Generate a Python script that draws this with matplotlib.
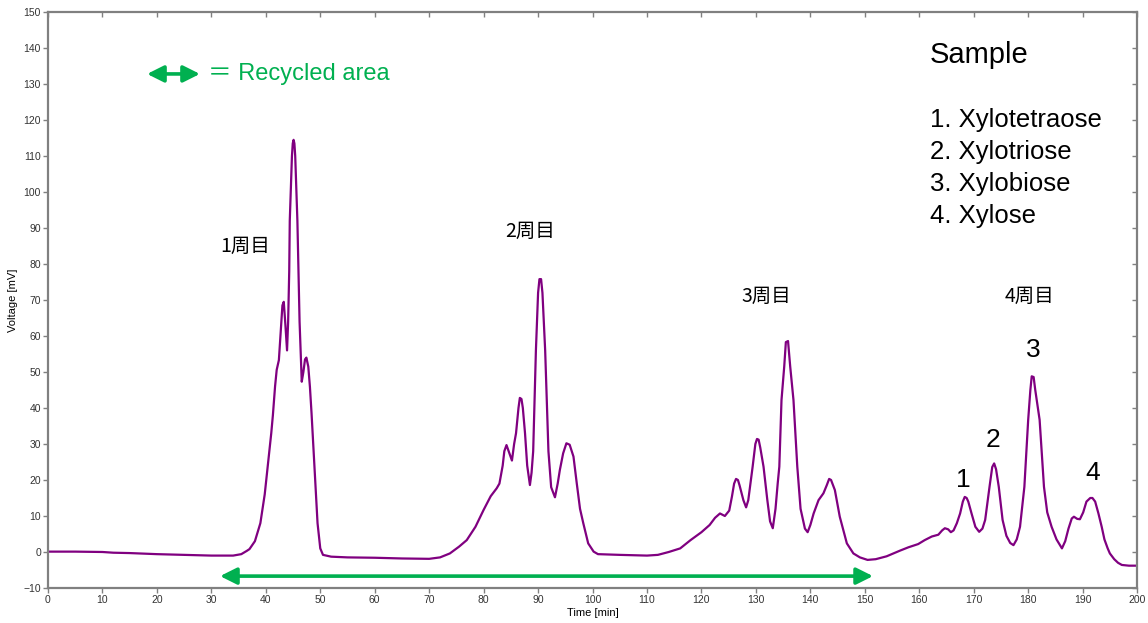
import matplotlib
matplotlib.use("Agg")
import matplotlib.pyplot as plt

plt.rcParams['font.family'] = ['Liberation Sans', 'DejaVu Sans']

# chromatogram (time [min], voltage [mV])
time_min = [
    0, 5, 10, 12, 15, 20, 25, 30, 34, 35.5, 36.5,
    37, 38, 39, 39.8, 40.5, 41.0, 41.3, 41.7, 42.0, 42.4, 42.8, 43.05, 43.3, 43.6, 43.9,
    44.1, 44.3, 44.4, 44.8, 44.95, 45.1, 45.25, 45.4, 45.8, 46.0, 46.2, 46.6, 46.9,
    47.2, 47.45, 47.8, 48.1, 48.4, 49.0, 49.5, 50.0, 50.5,
    52, 55, 60, 65, 70, 72, 73.8,
    75.5, 76.9, 78.5, 80.0, 81.3, 82.4, 82.9, 83.5, 83.8, 84.2, 84.6, 85.2, 85.6,
    85.95, 86.4, 86.65, 86.95, 87.2, 87.6, 88.0, 88.5, 88.8, 89.1, 89.6, 90.0, 90.25,
    90.55, 90.8, 91.3, 91.9, 92.4, 93.1, 93.6, 94.0, 94.6, 95.2, 95.8, 96.5, 97.1,
    97.7, 98.3, 99.2, 100.2, 101, 105, 110, 112,
    114, 116.1, 118, 120, 121.5, 122.5, 123.4, 124.3, 125.1, 125.6, 126.0, 126.35,
    126.7, 127.0, 127.7, 128.2, 128.6, 129.4, 129.9, 130.2, 130.5, 130.8, 131.4,
    132.1, 132.6, 133.1, 133.6, 134.0, 134.3, 134.7, 135.2, 135.5, 135.9, 136.3,
    136.9, 137.6, 138.2, 139.0, 139.5, 140.0, 140.6, 141.5, 142.4, 143.0, 143.45,
    143.8, 144.5, 145.4, 146.7, 147.9, 149.1, 150.5, 152, 154, 156.5,
    158, 159.8, 161, 162.3, 163.5, 164.2, 164.7, 165.3, 165.8, 166.3, 166.9, 167.5,
    168.0, 168.35, 168.7, 169.0, 169.6, 170.3, 171.0, 171.6, 172.1, 172.9, 173.4,
    173.75, 174.1, 174.6, 175.3, 176.0, 176.7, 177.3, 177.9, 178.5, 179.3, 180.0,
    180.4, 180.65, 181.0, 181.3, 182.1, 182.9, 183.5, 184.3, 185.2, 186.2, 186.8,
    187.4, 188.0, 188.4, 189.0, 189.5, 190.1, 190.7, 191.4, 191.8, 192.3, 192.9,
    193.5, 194.0, 194.6, 195.0, 195.8, 196.5, 197.2, 198.5, 200,
]
voltage_mv = [
    0.1, 0.1, 0.0, -0.2, -0.3, -0.6, -0.8, -1.0, -1.0, -0.6, 0.3,
    0.8, 3, 8, 16, 26, 33, 38, 46, 50.6, 53.3, 62.6, 68.5, 69.5, 63, 56,
    64, 78, 92, 110, 113.5, 114.5, 113.5, 110, 92, 78, 64, 47.3, 50,
    53.5, 54, 51.5, 45.9, 38.5, 22, 8, 1, -0.8,
    -1.3, -1.5, -1.6, -1.8, -1.9, -1.5, -0.4,
    1.5, 3.3, 7, 11.7, 15.5, 17.7, 19, 24, 28, 29.7, 28, 25.4, 30,
    33, 40, 42.8, 42.5, 40, 33, 24, 18.6, 22, 28, 56, 72, 75.8,
    75.8, 72, 56, 28, 18, 15.2, 19, 22.8, 27.4, 30.2, 29.8, 26.5, 19.1,
    12, 8, 2.4, 0.1, -0.6, -0.8, -1.0, -0.8,
    0, 1.0, 3.3, 5.5, 7.5, 9.5, 10.7, 10.0, 11.5, 15.4, 19, 20.3,
    20.0, 18.5, 14.4, 12.4, 14.4, 23.7, 30, 31.4, 31.2, 29, 23.7,
    14.4, 8.5, 6.6, 12, 19, 23.7, 42.2, 51.5, 58.3, 58.6, 51.5,
    42.2, 23.7, 12, 6.5, 5.5, 7.5, 10.7, 14.4, 16.3, 18.5, 20.3,
    20.0, 17.2, 9.8, 2.4, -0.4, -1.5, -2.2, -2.0, -1.2, 0.4,
    1.3, 2.2, 3.3, 4.3, 4.8, 6.0, 6.6, 6.3, 5.5, 6, 8, 10.7,
    14, 15.3, 15.0, 14, 10.7, 7, 5.6, 6.5, 8.9, 18.1, 23.6,
    24.6, 23, 18.1, 8.9, 4.5, 2.5, 1.9, 3.5, 7, 18.1, 36.7,
    45, 48.8, 48.6, 45, 36.7, 18.1, 11, 7, 3.5, 1.0, 3,
    6.5, 9.3, 9.8, 9.2, 9.1, 11, 14, 15.0, 15.0, 14, 10.7,
    7, 3.5, 1, -0.4, -2, -3, -3.6, -3.8, -3.8,
]

cycle_labels = ['1周目', '2周目', '3周目', '4周目']
cycle_pos = [(36.2, 85), (88.5, 89), (132.0, 71), (180.3, 71)]
peak_labels = ['1', '2', '3', '4']
peak_pos = [(168.1, 20), (173.6, 31), (180.9, 56), (191.8, 22)]
sample_lines = ['1. Xylotetraose', '2. Xylotriose', '3. Xylobiose', '4. Xylose']
recycle_span = (31.6, 151.5)

green = '#00B050'
grey = '#808080'

fig = plt.figure(figsize=(11.48, 6.23), dpi=100)
ax = fig.add_axes([0.0418, 0.0562, 0.9487, 0.9245])

ax.plot(time_min, voltage_mv, color='#800080', lw=1.6)

ax.set_xlim(0, 200)
ax.set_ylim(-10, 150)
ax.set_xticks(range(0, 201, 10))
ax.set_yticks(range(-10, 151, 10))
ax.tick_params(labelsize=7.5, colors='#333333', length=3.5, width=1, color=grey, pad=1.5)
for s in ax.spines.values():
    s.set_color(grey)
    s.set_linewidth(1.6)
ax.set_xlabel('Time [min]', fontsize=8, labelpad=2)
ax.set_ylabel('Voltage [mV]', fontsize=8, labelpad=4)

# top / right ticks pointing inward
ax.tick_params(top=True, right=True)
for t in ax.xaxis.get_major_ticks():
    t.tick2line.set_marker(3)
for t in ax.yaxis.get_major_ticks():
    t.tick2line.set_marker(0)

for lab, (x, y) in zip(cycle_labels, cycle_pos):
    ax.text(x, y, lab, fontsize=14, ha='center', va='center',
            family=['Noto Sans CJK JP', 'DejaVu Sans'])

for lab, (x, y) in zip(peak_labels, peak_pos):
    ax.text(x, y, lab, fontsize=19, ha='center', va='center')

ax.text(162, 138, 'Sample', fontsize=21, va='center')
for i, line in enumerate(sample_lines):
    ax.text(162, 120 - i * 8.9, line, fontsize=18.5, va='center')

# recycled area legend and arrow
arrow_kw = dict(arrowstyle='<|-|>', color=green, lw=2.6, mutation_scale=25,
                shrinkA=0, shrinkB=0)
ax.annotate('', xy=(18.2, 132.8), xytext=(27.9, 132.8), arrowprops=arrow_kw)
ax.text(29.3, 132.8, '＝ Recycled area', color=green, fontsize=17, va='center',
        family=['Liberation Sans', 'Noto Sans CJK JP'])
ax.annotate('', xy=(recycle_span[0], -6.7), xytext=(recycle_span[1], -6.7),
            arrowprops=arrow_kw)

fig.savefig('out.png', dpi=100)
